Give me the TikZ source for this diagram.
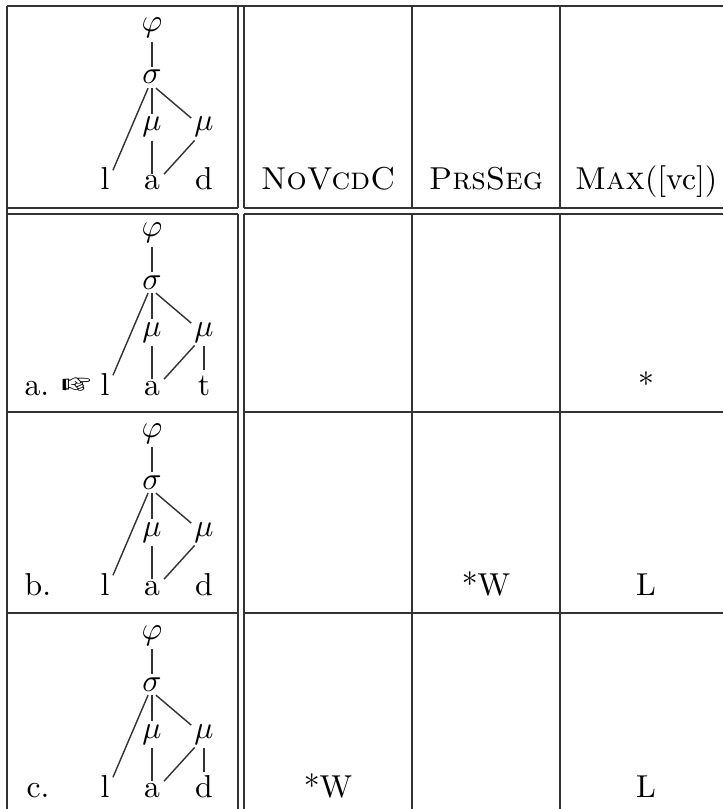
\documentclass[tikz,border=0pt]{standalone}
\usepackage{pifont}
\newcommand{\treeform}[4]{%
  % #1 prefix, #2 y shift, #3 last segment, #4 extra connector
  \begin{scope}[yshift=#2*-0.3155pt]
    \node[treenode,mathdeep] (#1phi) at (152,32) {$\varphi$};
    \node[treenode,minimum width=5pt] (#1sig) at (152,84) {$\sigma$};
    \node[treenode,mathdeep,minimum width=6pt] (#1mua) at (152,131) {$\mu$};
    \node[treenode,mathdeep,minimum width=6pt] (#1mub) at (204,131) {$\mu$};
    \node[treenode,minimum width=3pt,text height=5.2pt] (#1l) at (105,190) {l};
    \node[treenode,minimum width=5.6pt,text height=4pt] (#1a) at (152,190) {a};
    \node[treenode,text height=7pt] (#1end) at (204,190) {#3};
    \draw[assoc] (#1phi.south) -- (#1sig.north);
    \draw[assoc] (#1sig.-110) -- (#1l.north east);
    \draw[assoc] (#1sig.south) -- (#1mua.north);
    \draw[assoc] (#1sig.-70) -- (#1mub.145);
    \draw[assoc] (#1mua.south) -- (#1a.north);
    \draw[assoc] (#1mub.-125) -- (#1a.north east);
    #4
  \end{scope}}
\begin{document}
\begin{tikzpicture}[x=0.3155pt,y=-0.3155pt,
  rule/.style={line width=0.5pt,black!80},
  assoc/.style={line width=0.45pt,black!80},
  treenode/.style={anchor=base,inner sep=0pt,outer sep=1pt,text height=4.5pt,text depth=.3pt,minimum width=0pt},
  mathdeep/.style={text depth=2pt},
  celltext/.style={anchor=base,inner sep=0pt},
  rowlabel/.style={anchor=base west,inner sep=0pt}]
\useasboundingbox (0,0) rectangle (723,809);
% table rules
\draw[rule] (7,6) -- (723,6);
\draw[rule] (7,6) -- (7,809);
\draw[rule] (7,208) -- (238,208) (244,208) -- (723,208);
\draw[rule] (7,214) -- (238,214) (244,214) -- (723,214);
\draw[rule] (7,412) -- (238,412) (244,412) -- (723,412);
\draw[rule] (7,613) -- (238,613) (244,613) -- (723,613);
\foreach \x in {238,244,412,560} {
  \draw[rule] (\x,6) -- (\x,208) (\x,214) -- (\x,809);
}
% candidate trees
\treeform{i}{0}{d}{}
\treeform{x}{205}{t}{\draw[assoc] (xmub.south) -- (xend.north);}
\treeform{y}{405}{d}{}
\treeform{z}{607}{d}{\draw[assoc] (zmub.south) -- (zend.north);}
% row labels
\node[rowlabel] (la) at (24,395) {a.};
\node[rowlabel] (hand) at (61,395) {\ding{43}};
\node[rowlabel] (lb) at (24,595) {b.};
\node[rowlabel] (lc) at (26,797) {c.};
% header
\node[celltext] (h1) at (328,190) {\textsc{NoVcdC}};
\node[celltext] (h2) at (486,190) {\textsc{PrsSeg}};
\node[celltext] (h3) at (646,190) {\textsc{Max}([vc])};
% violation marks
\node[celltext] (ma) at (646,395) {*};
\node[celltext] (mb1) at (486,595) {*W};
\node[celltext] (mb2) at (646,595) {L};
\node[celltext] (mc1) at (328,797) {*W};
\node[celltext] (mc2) at (646,797) {L};
\end{tikzpicture}
\end{document}
